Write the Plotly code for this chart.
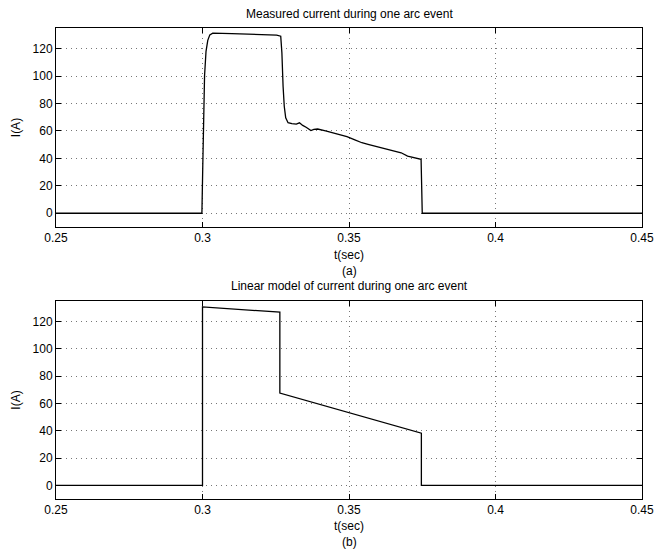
import plotly.graph_objects as go
from plotly.subplots import make_subplots

# ---- data ----
t_meas = [0.25, 0.2998, 0.3001, 0.3004, 0.3007, 0.3012, 0.3018, 0.3025, 0.3035,
          0.3100, 0.3200, 0.3253, 0.3267, 0.3271, 0.3275, 0.3279, 0.3284, 0.3292,
          0.3305, 0.3320, 0.3331, 0.3336, 0.3342, 0.3355, 0.3370, 0.3380, 0.3393,
          0.3420, 0.3443, 0.3470, 0.3493, 0.3520, 0.3544, 0.3565, 0.3588, 0.3610,
          0.3633, 0.3655, 0.3678, 0.3700, 0.3720, 0.3735, 0.3746, 0.3748, 0.3750, 0.45]
i_meas = [0, 0, 35, 70, 100, 118, 126, 130, 131.3,
          130.9, 130.3, 129.8, 129, 116.8, 92.6, 78, 69.6, 66,
          65.3, 65, 65.9, 65.0, 64, 62.5, 60.3, 61.2, 61.4,
          60, 58.7, 57.2, 55.8, 53.5, 51.4, 50.2, 49, 47.5,
          46.1, 45.2, 44.1, 41.7, 40.5, 39.6, 39.3, 20, 0, 0]

t_model = [0.25, 0.300, 0.300, 0.3264, 0.3264, 0.3747, 0.3747, 0.45]
i_model = [0, 0, 130.7, 126.8, 67.6, 38.2, 0, 0]

x_ticks = [0.25, 0.3, 0.35, 0.4, 0.45]
x_ticklabels = ["0.25", "0.3", "0.35", "0.4", "0.45"]
y_ticks = [0, 20, 40, 60, 80, 100, 120]

title_a = "Measured current during one arc event"
title_b = "Linear model of current during one arc event"

FONT = "Liberation Sans, Arial, sans-serif"

fig = make_subplots(rows=2, cols=1)
fig.add_trace(go.Scatter(x=t_meas, y=i_meas, mode="lines",
                         line=dict(color="black", width=1.3), showlegend=False),
              row=1, col=1)
fig.add_trace(go.Scatter(x=t_model, y=i_model, mode="lines",
                         line=dict(color="black", width=1.3), showlegend=False),
              row=2, col=1)

axis_common = dict(showline=True, linecolor="black", linewidth=1, mirror="ticks",
                   ticks="inside", ticklen=5, tickcolor="black",
                   showgrid=True, gridcolor="#777777", griddash="1px,4px", gridwidth=1,
                   zeroline=False, tickfont=dict(family=FONT, size=12, color="black"))

for ax in ["xaxis", "xaxis2"]:
    fig.layout[ax].update(range=[0.25, 0.45], tickvals=x_ticks, ticktext=x_ticklabels,
                          **axis_common)
for ax in ["yaxis", "yaxis2"]:
    fig.layout[ax].update(range=[-10, 135], tickvals=y_ticks, **axis_common)

fig.layout.yaxis.domain = [0.5775, 1.0]
fig.layout.yaxis2.domain = [0.0, 0.4204]

ann_font = dict(family=FONT, size=12, color="black")
anns = [
    dict(text=title_a, x=0.5, y=1.0297),
    dict(text=title_b, x=0.5, y=0.4524),
    dict(text="t(sec)", x=0.5, y=0.518),
    dict(text="(a)", x=0.5, y=0.4835),
    dict(text="t(sec)", x=0.5, y=-0.0573),
    dict(text="(b)", x=0.5, y=-0.0913),
]
for a in anns:
    fig.add_annotation(xref="paper", yref="paper", showarrow=False,
                       xanchor="center", yanchor="middle", font=ann_font, **a)
for yy in [0.7887, 0.2102]:
    fig.add_annotation(xref="paper", yref="paper", showarrow=False, text="I(A)",
                       x=-0.0688, y=yy, textangle=-90, xanchor="center",
                       yanchor="middle", font=ann_font)

fig.update_layout(width=666, height=556,
                  margin=dict(l=56, r=14, t=28, b=57),
                  plot_bgcolor="white", paper_bgcolor="white",
                  font=dict(family=FONT, size=12, color="black"))

fig.write_html("out.html")
